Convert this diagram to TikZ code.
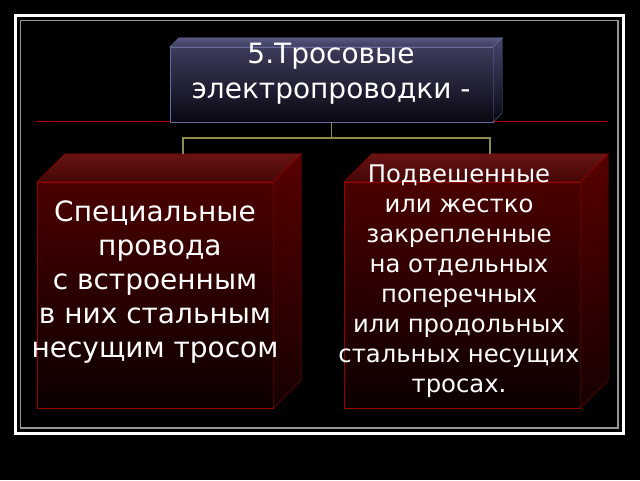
\documentclass[tikz,border=0pt]{standalone}
\usepackage{fontspec}
\setmainfont{DejaVu Sans}
\usepackage{tikz}
\usetikzlibrary{positioning}
\usepackage{xcolor}
\definecolor{frgrey}{RGB}{150,150,150}
\definecolor{rlinered}{RGB}{185,0,0}
\definecolor{linkolive}{RGB}{140,140,76}
\definecolor{rededge}{RGB}{150,0,0}
\definecolor{redfront}{RGB}{74,0,0}
\definecolor{redfrontbot}{RGB}{12,0,0}
\definecolor{redtopback}{RGB}{105,20,20}
\definecolor{redtopfront}{RGB}{68,6,6}
\definecolor{redside}{RGB}{88,0,0}
\definecolor{redsidebot}{RGB}{22,0,0}
\definecolor{navyedge}{RGB}{105,105,155}
\definecolor{navyfront}{RGB}{60,60,92}
\definecolor{navyfrontbot}{RGB}{8,8,18}
\definecolor{navytop}{RGB}{88,88,130}
\definecolor{navyside}{RGB}{70,70,110}
\tikzstyle{link} = [line width=1.5pt, color=linkolive]
\tikzstyle{redbox} = [rectangle, draw=rededge, shading=axis, top color=redfront, bottom color=redfrontbot, minimum width=236pt, minimum height=226pt, inner sep=0pt]
\tikzstyle{titlebox} = [rectangle, draw=navyedge, shading=axis, top color=navyfront, bottom color=navyfrontbot, minimum width=323pt, minimum height=75pt, inner sep=0pt]
\tikzstyle{boxtext} = [text=white, align=center, inner sep=0pt]

\begin{document}
\begin{tikzpicture}[x=1pt, y=-1pt]
% Background and frame
\fill[black] (0,0) rectangle (640,480);
\useasboundingbox (0,0) rectangle (640,480);
\draw[white, line width=3pt] (15.5,15.5) rectangle (623.5,433);
\draw[frgrey, line width=1.5pt] (20.5,20.5) rectangle (618,428);
\draw[rlinered, line width=1.3pt] (36,121.5) -- (608,121.5);

% Boxes (front faces)
\node[titlebox] (tbox) at (331.5,84.5) {};
\node[redbox] (lbox) at (155,295) {};
\node[redbox] (rbox) at (462,295) {};

% Depth of the title box
\shadedraw[draw=navyedge, top color=navytop, bottom color=navyfront] (tbox.north west) -- ++(9pt,9pt) -- ([shift={(9pt,9pt)}]tbox.north east) -- (tbox.north east) -- cycle;
\shadedraw[draw=navyedge, top color=navyside, bottom color=navyfrontbot] (tbox.north east) -- ++(9pt,9pt) -- ([shift={(9pt,9pt)}]tbox.south east) -- (tbox.south east) -- cycle;

% Depth of the red boxes
\foreach \b in {lbox,rbox}{
  \shadedraw[draw=rededge, top color=redtopback, bottom color=redtopfront] (\b.north west) -- ++(28pt,28pt) -- ([shift={(28pt,28pt)}]\b.north east) -- (\b.north east) -- cycle;
  \shadedraw[draw=rededge, top color=redside, bottom color=redsidebot] (\b.north east) -- ++(28pt,28pt) -- ([shift={(28pt,28pt)}]\b.south east) -- (\b.south east) -- cycle;
}

% Links
\draw[link] (tbox.south) -- ++(0,-16pt) -| ([shift={(28pt,28pt)}]lbox.north);
\draw[link] (tbox.south) -- ++(0,-16pt) -| ([shift={(28pt,28pt)}]rbox.north);

% Texts
\node[boxtext, font=\fontsize{28}{35}\selectfont] (ttext) at (331,74) {5.Тросовые\\электропроводки -};
\node[boxtext, font=\fontsize{28}{34}\selectfont] (ltext) at (155,282) {Специальные\\\hspace*{0.35em}провода\\с встроенным\\в них стальным\\несущим тросом};
\node[boxtext, font=\fontsize{24.3}{30}\selectfont] (rtext) at (459,281) {Подвешенные\\или жестко\\закрепленные\\на отдельных\\поперечных\\или продольных\\стальных несущих\\тросах.};
\end{tikzpicture}
\end{document}
